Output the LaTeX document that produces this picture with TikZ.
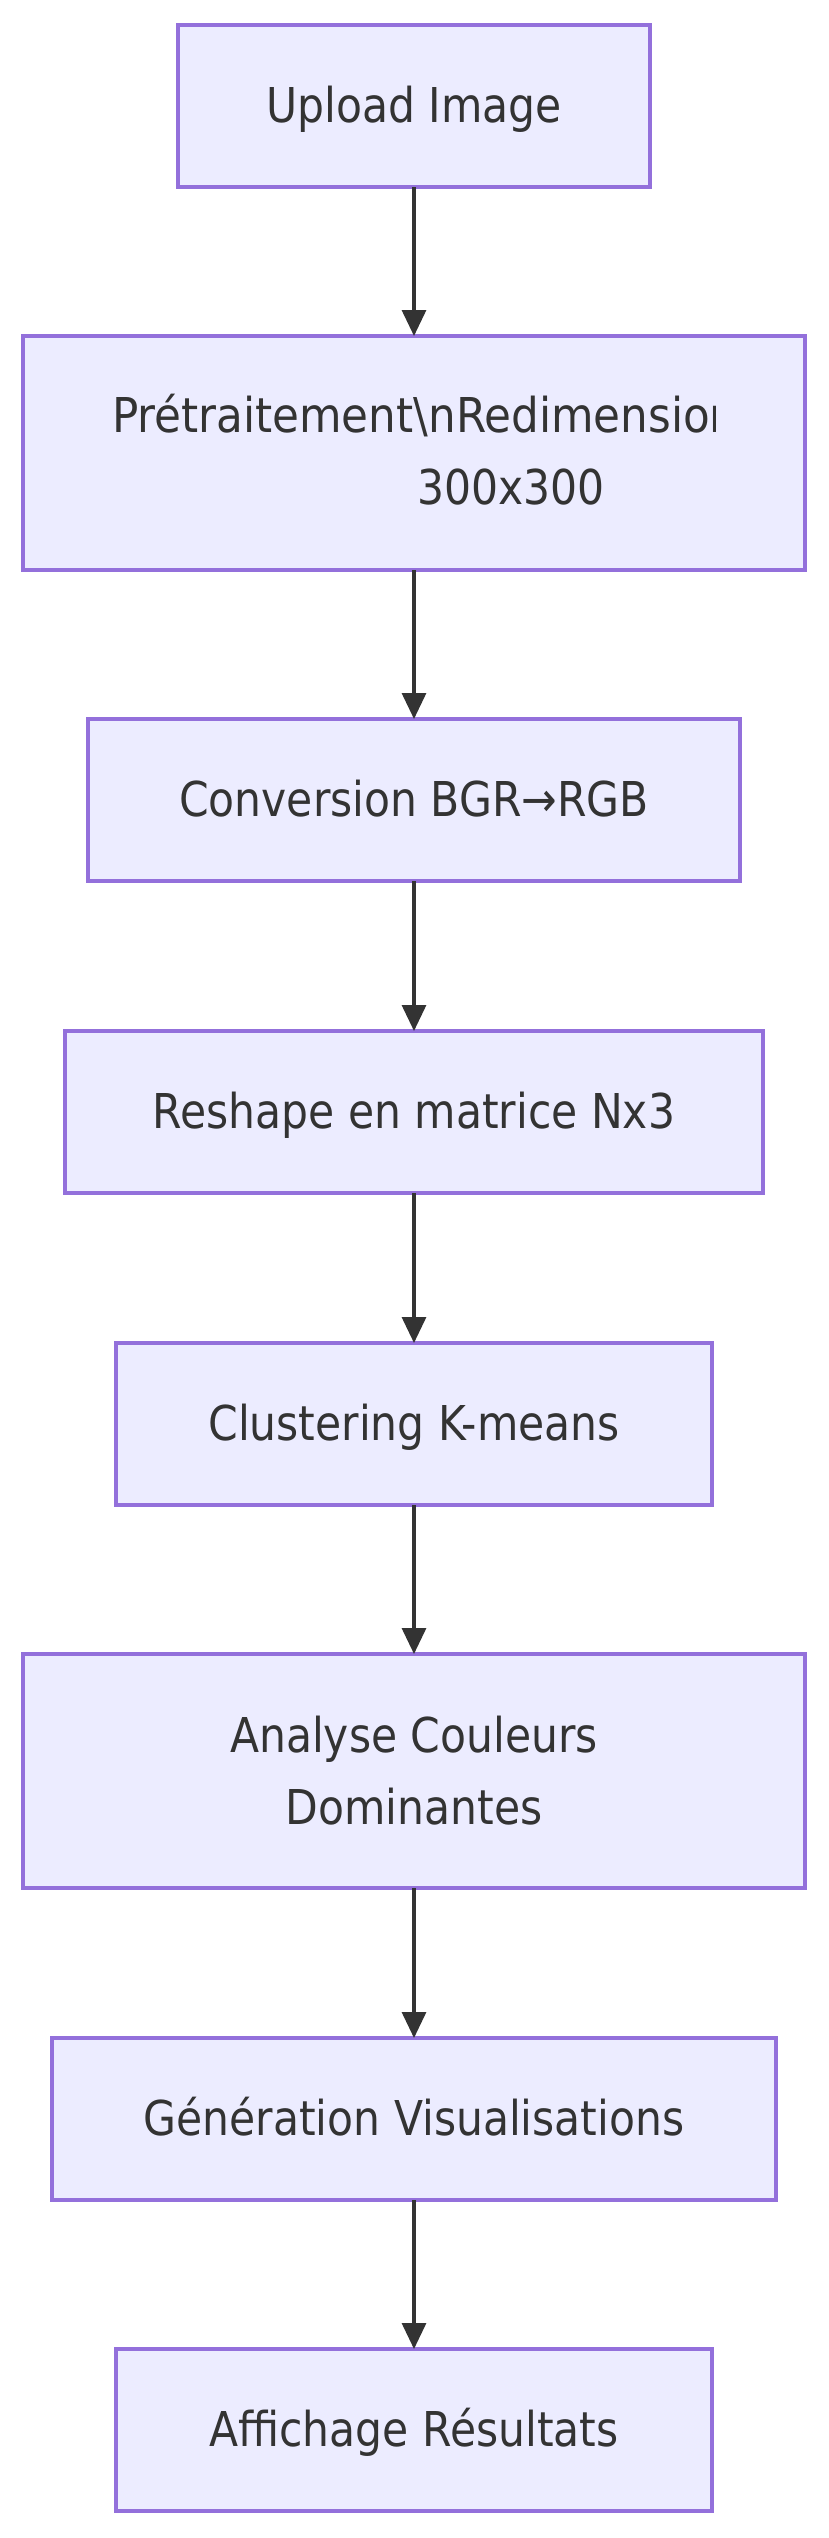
\documentclass[tikz,border=0pt]{standalone}
\usepackage{fontspec}
\setmainfont{DejaVu Sans}[FakeStretch=0.885]
\newfontfamily\lineonefont{DejaVu Sans}[FakeStretch=0.91]
\usetikzlibrary{arrows.meta}
\definecolor{nodefill}{HTML}{ECECFF}
\definecolor{nodeline}{HTML}{9370DB}
\definecolor{ink}{HTML}{333333}
\begin{document}
\begin{tikzpicture}[x=1pt,y=-1pt,
  box/.style={draw=nodeline, fill=nodefill, line width=3.2pt, inner sep=0pt, outer sep=0pt,
    anchor=north, minimum height=162pt, text=ink, font=\fontsize{48}{72}\selectfont, align=center},
  single/.style={box, text height=32pt, text depth=0pt},
  double/.style={box, minimum height=234pt},
  txt/.style={inner sep=0pt, outer sep=0pt, text=ink, font=\fontsize{48}{72}\selectfont},
  flow/.style={draw=ink, line width=3.2pt, -{Triangle[width=24pt,length=26pt]}}]
\useasboundingbox (0,0) rectangle (828,2538);
\fill[white] (0,0) rectangle (828,2538);
\node[single, minimum width=472pt] (n1) at (414,25) {Upload Image};
\node[double, minimum width=782pt] (n2) at (414,336) {};
\begin{scope}
  \clip (100,370) rectangle (715,460);
  \node[txt, anchor=base west, font=\lineonefont\fontsize{48}{72}\selectfont] (n2a) at (112,432) {Prétraitement\textbackslash nRedimensionnement};
\end{scope}
\node[txt, anchor=base] (n2b) at (511,504) {300x300};
\node[single, minimum width=652pt] (n3) at (414,719) {Conversion BGR→RGB};
\node[single, minimum width=698pt] (n4) at (414,1031) {Reshape en matrice Nx3};
\node[single, minimum width=596pt] (n5) at (414,1343) {Clustering K-means};
\node[double, minimum width=782pt] (n6) at (414,1654) {Analyse Couleurs\\Dominantes};
\node[single, minimum width=724pt] (n7) at (414,2038) {Génération Visualisations};
\node[single, minimum width=596pt] (n8) at (414,2349) {Affichage Résultats};
\draw[flow] (n1.south) -- (n2.north);
\draw[flow] (n2.south) -- (n3.north);
\draw[flow] (n3.south) -- (n4.north);
\draw[flow] (n4.south) -- (n5.north);
\draw[flow] (n5.south) -- (n6.north);
\draw[flow] (n6.south) -- (n7.north);
\draw[flow] (n7.south) -- (n8.north);
\end{tikzpicture}
\end{document}
